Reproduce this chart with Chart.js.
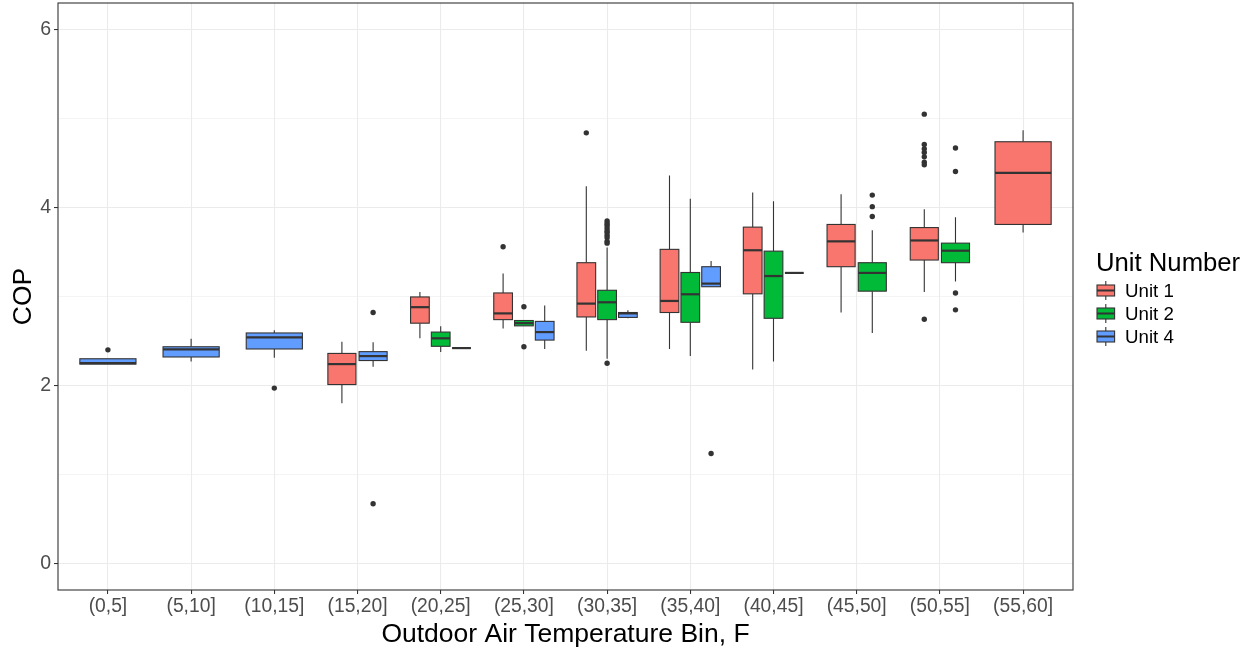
<!DOCTYPE html>
<html><head><meta charset="utf-8">
<script src="https://cdn.jsdelivr.net/npm/chart.js@4.4.0/dist/chart.umd.min.js"></script>
<style>html,body{margin:0;padding:0;background:#fff;} #wrap{width:1255px;height:651px;}</style>
</head><body><div id="wrap"><canvas id="c" width="1255" height="651"></canvas></div>
<script>
const categories = ['(0,5]','(5,10]','(10,15]','(15,20]','(20,25]','(25,30]','(30,35]','(35,40]','(40,45]','(45,50]','(50,55]','(55,60]'];
const unitNames = ['Unit 1','Unit 2','Unit 4'];
const unitColors = ['#F8766D','#00BA38','#619CFF'];
const yTickValues = [0,1,2,3,4,5,6];
const yTickLabels = ['0','','2','','4','','6'];

// box stats per category: [lower whisker, Q1, median, Q3, upper whisker]
const unit1Stats = [null, null, null,
  [1.80,2.01,2.24,2.36,2.49],
  [2.53,2.70,2.88,2.995,3.05],
  [2.64,2.74,2.81,3.04,3.26],
  [2.39,2.77,2.92,3.38,4.24],
  [2.41,2.82,2.95,3.53,4.36],
  [2.18,3.03,3.52,3.78,4.17],
  [2.82,3.335,3.62,3.81,4.15],
  [3.05,3.41,3.63,3.775,3.98],
  [3.72,3.81,4.39,4.74,4.87]];
const unit2Stats = [null, null, null, null,
  [2.375,2.44,2.53,2.60,2.665],
  [2.67,2.67,2.70,2.73,2.73],
  [2.30,2.74,2.935,3.07,3.55],
  [2.33,2.71,3.025,3.27,4.10],
  [2.27,2.755,3.23,3.51,4.07],
  [2.59,3.06,3.265,3.38,3.745],
  [3.17,3.38,3.515,3.60,3.89],
  null];
const unit4Stats = [
  [2.24,2.24,2.25,2.30,2.30],
  [2.27,2.32,2.405,2.435,2.525],
  [2.31,2.41,2.54,2.59,2.62],
  [2.21,2.28,2.33,2.38,2.485],
  [2.42,2.42,2.42,2.42,2.42],
  [2.41,2.51,2.60,2.72,2.90],
  [2.755,2.765,2.81,2.82,2.845],
  [3.11,3.11,3.145,3.335,3.40],
  [3.265,3.265,3.265,3.265,3.265],
  null, null, null];

// outliers per category
const unit1Outliers = [[],[],[],[],[],[3.56],[4.84],[],[],[],[5.05,4.71,4.66,4.62,4.57,4.51,4.48,2.745],[]];
const unit2Outliers = [[],[],[],[],[],[2.885,2.435],[2.25,3.85,3.82,3.80,3.77,3.74,3.72,3.69,3.66,3.62,3.60],[],[],[4.14,4.01,3.90],[4.67,4.405,3.04,2.85],[]];
const unit4Outliers = [[2.40],[],[1.97],[2.82,0.67],[],[],[],[1.235],[],[],[],[]];

const allStats = [unit1Stats, unit2Stats, unit4Stats];
const allOutliers = [unit1Outliers, unit2Outliers, unit4Outliers];
const DODGE_WIDTH = 0.75, DODGE_PAD = 0.1;

function slot(u, c) {
  const present = allStats.map(s => s[c] != null);
  const n = present.filter(Boolean).length;
  const k = present.slice(0, u).filter(Boolean).length;
  const w = DODGE_WIDTH / n;
  return {center: c - DODGE_WIDTH / 2 + (k + 0.5) * w, half: w * (1 - DODGE_PAD) / 2};
}
function outlierPoints(u) {
  const pts = [];
  allOutliers[u].forEach((vals, c) => vals.forEach(v => pts.push({x: slot(u, c).center, y: v})));
  return pts;
}

const FONT = 'Liberation Sans';
const boxPlugin = {
  id: 'boxes',
  beforeDatasetsDraw(chart) {
    const {ctx, scales: {x, y}, chartArea} = chart;
    ctx.save();
    ctx.beginPath(); ctx.rect(chartArea.left, chartArea.top, chartArea.width, chartArea.height); ctx.clip();
    allStats.forEach((stats, u) => stats.forEach((s, c) => {
      if (!s) return;
      const {center, half} = slot(u, c);
      const xc = x.getPixelForValue(center), xl = x.getPixelForValue(center - half), xr = x.getPixelForValue(center + half);
      const [lo, q1, med, q3, hi] = s.map(v => y.getPixelForValue(v));
      ctx.strokeStyle = '#333333'; ctx.lineWidth = 1.1;
      ctx.beginPath(); ctx.moveTo(xc, q3); ctx.lineTo(xc, hi); ctx.moveTo(xc, q1); ctx.lineTo(xc, lo); ctx.stroke();
      ctx.fillStyle = unitColors[u];
      ctx.fillRect(xl, q3, xr - xl, q1 - q3);
      ctx.strokeRect(xl, q3, xr - xl, q1 - q3);
      ctx.lineWidth = 2.2;
      ctx.beginPath(); ctx.moveTo(xl, med); ctx.lineTo(xr, med); ctx.stroke();
    }));
    ctx.restore();
  },
  afterDatasetsDraw(chart) {
    const {ctx, chartArea: a} = chart;
    ctx.save();
    ctx.strokeStyle = '#333333'; ctx.lineWidth = 1.1;
    ctx.strokeRect(a.left, a.top, a.right - a.left, a.bottom - a.top);
    ctx.restore();
  },
  afterDraw(chart) {
    const {ctx, chartArea: a} = chart;
    const lx = a.right + 23;
    const mid = (a.top + a.bottom) / 2;
    ctx.save();
    ctx.fillStyle = '#000';
    ctx.textBaseline = 'alphabetic';
    ctx.font = '25.7px "' + FONT + '"';
    ctx.fillText('Unit Number', lx, mid - 25.5);
    unitNames.forEach((name, i) => {
      const cy = mid - 6 + 23 * i;
      const kx = lx + 1, kw = 17.6, kc = kx + kw / 2;
      ctx.strokeStyle = '#333333'; ctx.lineWidth = 1.1;
      ctx.beginPath(); ctx.moveTo(kc, cy - 9.5); ctx.lineTo(kc, cy + 9.5); ctx.stroke();
      ctx.fillStyle = unitColors[i];
      ctx.fillRect(kx, cy - 5.5, kw, 11);
      ctx.strokeRect(kx, cy - 5.5, kw, 11);
      ctx.lineWidth = 2;
      ctx.beginPath(); ctx.moveTo(kx, cy); ctx.lineTo(kx + kw, cy); ctx.stroke();
      ctx.fillStyle = '#000';
      ctx.font = '18.7px "' + FONT + '"';
      ctx.fillText(name, lx + 29, cy + 6.5);
    });
    ctx.restore();
  }
};

new Chart(document.getElementById('c').getContext('2d'), {
  type: 'scatter',
  data: {
    datasets: unitNames.map((name, u) => ({
      label: name,
      data: outlierPoints(u),
      pointRadius: 2.7, pointHoverRadius: 2.7,
      pointBackgroundColor: '#333333', pointBorderWidth: 0, showLine: false
    }))
  },
  options: {
    responsive: false, animation: false, devicePixelRatio: 1, events: [],
    layout: {padding: {top: 3, right: 182, bottom: 0, left: 0}},
    plugins: {legend: {display: false}, tooltip: {enabled: false}},
    scales: {
      x: {
        type: 'linear', min: -0.6, max: 11.6,
        afterBuildTicks: s => { s.ticks = categories.map((_, i) => ({value: i})); },
        afterFit: s => { s.height = 61; s.paddingLeft = 0; s.paddingRight = 0; },
        ticks: {callback: v => categories[v], color: '#4D4D4D', font: {family: FONT, size: 19.3}, padding: 1, maxRotation: 0, autoSkip: false},
        grid: {color: '#EBEBEB', lineWidth: 1.07, tickColor: '#333333', tickLength: 4, tickWidth: 1.07},
        border: {display: false},
        title: {display: true, text: 'Outdoor Air Temperature Bin, F', color: '#000', font: {family: FONT, size: 26.5, lineHeight: 1}, padding: {top: 0, bottom: 3}}
      },
      y: {
        type: 'linear', min: -0.3, max: 6.3,
        afterBuildTicks: s => { s.ticks = yTickValues.map(v => ({value: v})); },
        afterFit: s => { s.width = 58; s.paddingTop = 0; s.paddingBottom = 0; },
        ticks: {callback: (v, i) => yTickLabels[yTickValues.indexOf(v)], color: '#4D4D4D', font: {family: FONT, size: 19.5}, padding: 3},
        grid: {
          color: '#EBEBEB',
          lineWidth: c => (c.tick && c.tick.value % 2) ? 0.55 : 1.07,
          tickColor: c => (c.tick && c.tick.value % 2) ? 'rgba(0,0,0,0)' : '#333333',
          tickLength: 4, tickWidth: 1.07
        },
        border: {display: false},
        title: {display: true, text: 'COP', color: '#000', font: {family: FONT, size: 26.5, lineHeight: 1}, padding: {top: 10, bottom: 0}}
      }
    }
  },
  plugins: [boxPlugin]
});
</script></body></html>
